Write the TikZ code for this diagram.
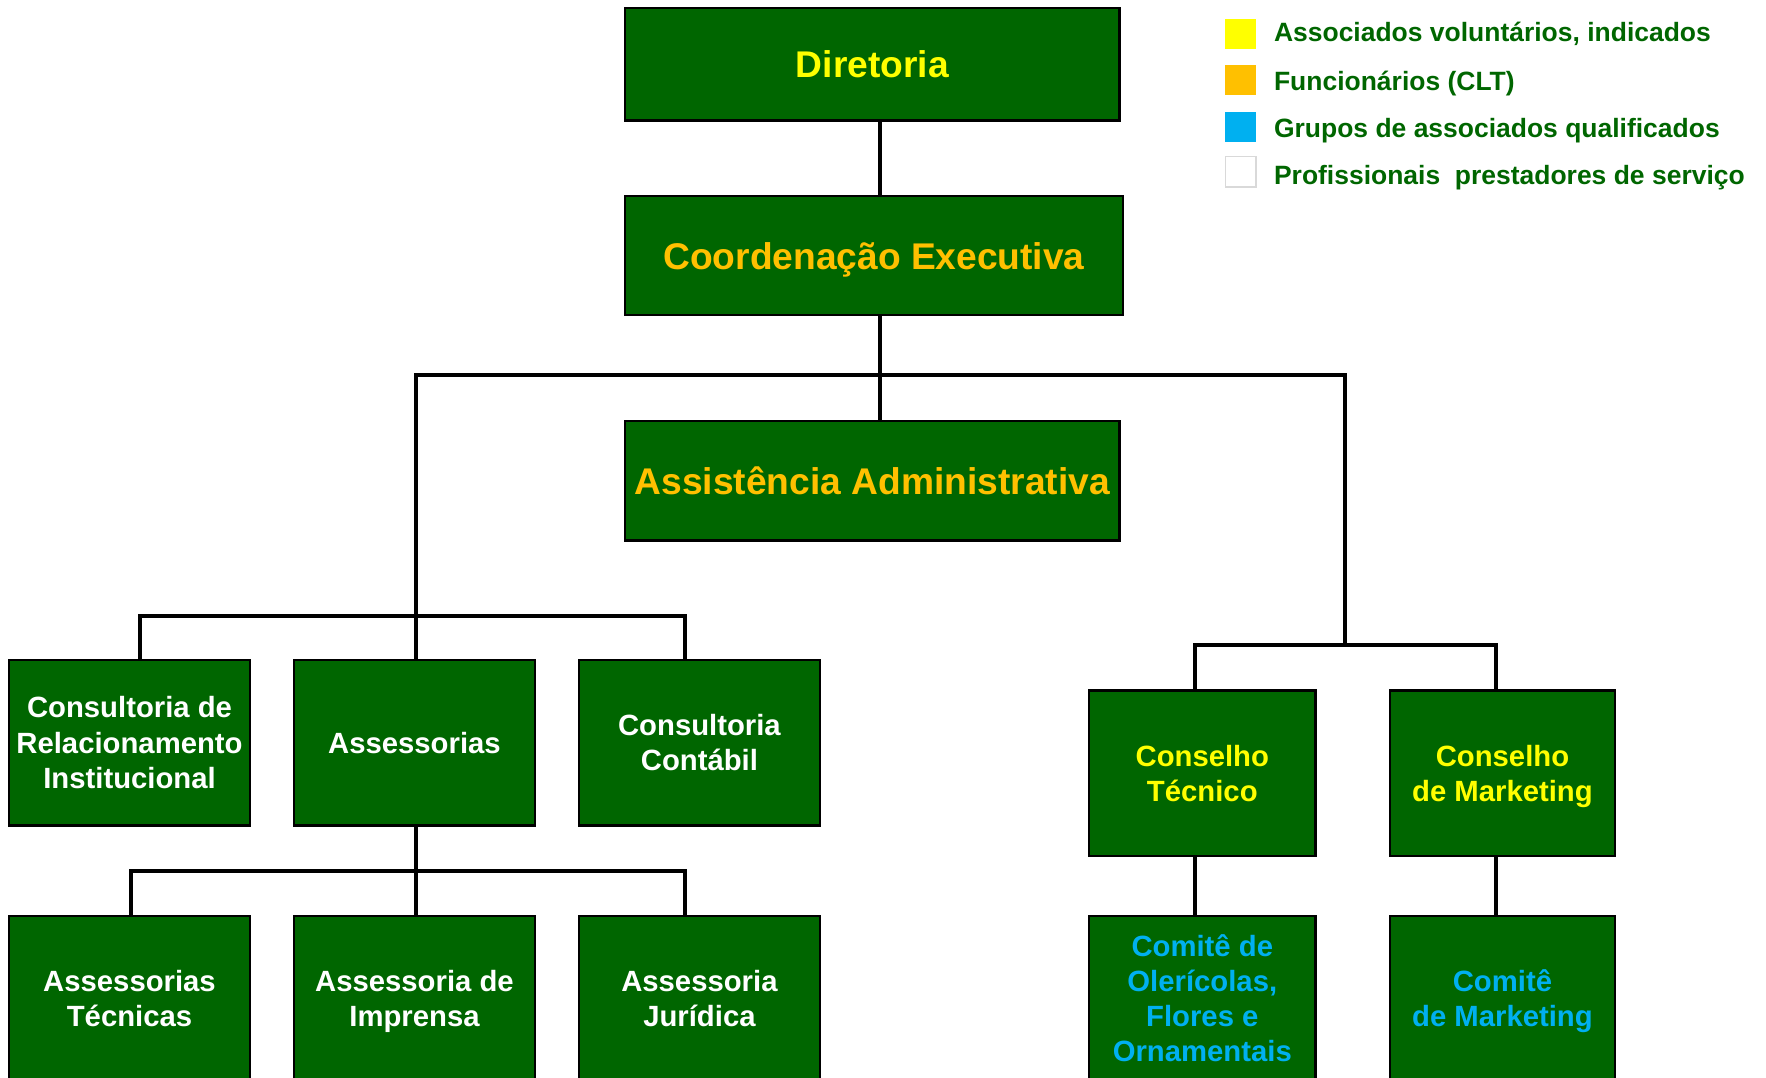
\documentclass[tikz,border=0pt]{standalone}
\usepackage{fontspec}
\setmainfont{Liberation Sans}
\definecolor{boxgreen}{HTML}{006600}
\definecolor{txtyellow}{HTML}{FFFF00}
\definecolor{txtorange}{HTML}{FFC000}
\definecolor{txtblue}{HTML}{00B0F0}
\definecolor{legborder}{HTML}{D9D9D9}
\newcommand{\nodepth}[1]{\raisebox{0pt}[\height][0pt]{#1}}
\tikzset{
  orgbox/.style={draw=black, line width=2pt, fill=boxgreen, rectangle, inner sep=0pt, align=center, font=\bfseries},
  bigbox/.style={orgbox, font=\bfseries\fontsize{33}{38}\selectfont},
  smallbox/.style={orgbox, minimum width=214pt, minimum height=147pt, text=white, font=\bfseries\fontsize{26}{31.5}\selectfont},
  rightbox/.style={orgbox, minimum height=147pt, font=\bfseries\fontsize{26}{31}\selectfont},
  conn/.style={draw=black, line width=3.6pt},
  legsq/.style={rectangle, minimum width=27pt, minimum height=27pt, inner sep=0pt},
  legtxt/.style={anchor=base west, inner sep=0pt, text=boxgreen, font=\bfseries\fontsize{23.5}{28}\selectfont}
}
\begin{document}
\begin{tikzpicture}[x=1pt, y=-1pt]
\useasboundingbox (0,0) rectangle (1568,957);
\clip (0,0) rectangle (1568,957);

% top boxes
\node[bigbox, minimum width=439pt, minimum height=100pt, text=txtyellow] (dir) at (774.5,57) {Diretoria};
\node[bigbox, minimum width=442pt, minimum height=106pt, text=txtorange] (coord) at (776,227) {\nodepth{Coordenação Executiva}};
\node[bigbox, minimum width=439pt, minimum height=106pt, text=txtorange] (assist) at (774.5,427) {Assistência Administrativa};

% row 1 left
\node[smallbox] (crel) at (115,659.5) {Consultoria de\\Relacionamento\\Institucional};
\node[smallbox] (asse) at (368,659.5) {\raisebox{-1.5pt}{Assessorias}};
\node[smallbox] (ccont) at (621,659.5) {Consultoria\\Contábil};

% row 2 left
\node[smallbox] (atec) at (115,886.5) {Assessorias\\Técnicas};
\node[smallbox] (aimp) at (368,886.5) {Assessoria de\\\nodepth{Imprensa}};
\node[smallbox] (ajur) at (621,886.5) {Assessoria\\Jurídica};

% right boxes
\node[rightbox, minimum width=201pt, text=txtyellow] (ctec) at (1067.5,686.5) {Conselho\\Técnico};
\node[rightbox, minimum width=200pt, text=txtyellow] (cmkt) at (1334,686.5) {Conselho\\\nodepth{de Marketing}};
\node[rightbox, minimum width=201pt, text=txtblue] (com1) at (1067.5,886.5) {Comitê de\\Olerícolas,\\Flores e\\Ornamentais};
\node[rightbox, minimum width=200pt, text=txtblue] (com2) at (1334,886.5) {Comitê\\\nodepth{de Marketing}};

% bus coordinates
\coordinate (xc) at (781,0);
\coordinate (busL) at (369,333);
\coordinate (busR) at (1194,333);
\coordinate (l1L) at (124,547);
\coordinate (l1R) at (608,547);
\coordinate (l2L) at (116,773);
\coordinate (l2R) at (608,773);
\coordinate (r1L) at (1061,573);
\coordinate (r1R) at (1328,573);
\coordinate (r1M) at (1194,573);

% connectors
\draw[conn] (dir.south -| xc) -- (coord.north -| xc);
\draw[conn] (coord.south -| xc) -- (assist.north -| xc);
\draw[conn] (busL |- asse.north) |- (busR) -- (r1M);
\draw[conn] (crel.north -| l1L) |- (l1R) -- (ccont.north -| l1R);
\draw[conn] (asse.south -| busL) -- (aimp.north -| busL);
\draw[conn] (atec.north -| l2L) |- (l2R) -- (ajur.north -| l2R);
\draw[conn] (ctec.north -| r1L) |- (r1R) -- (cmkt.north -| r1R);
\draw[conn] (ctec.south -| r1L) -- (com1.north -| r1L);
\draw[conn] (cmkt.south -| r1R) -- (com2.north -| r1R);

% legend
\node[legsq, fill=txtyellow] (sq1) at (1101.5,30) {};
\node[legsq, fill=txtorange] (sq2) at (1101.5,71) {};
\node[legsq, fill=txtblue] (sq3) at (1101.5,113) {};
\node[legsq, fill=white, draw=legborder, line width=1.5pt] (sq4) at (1101.5,152.5) {};
\node[legtxt] (lt1) at (1131,37) {Associados voluntários, indicados};
\node[legtxt] (lt2) at (1131,80) {Funcionários (CLT)};
\node[legtxt] (lt3) at (1131,122) {Grupos de associados qualificados};
\node[legtxt] (lt4) at (1131,164) {Profissionais~ prestadores de serviço};
\end{tikzpicture}
\end{document}
